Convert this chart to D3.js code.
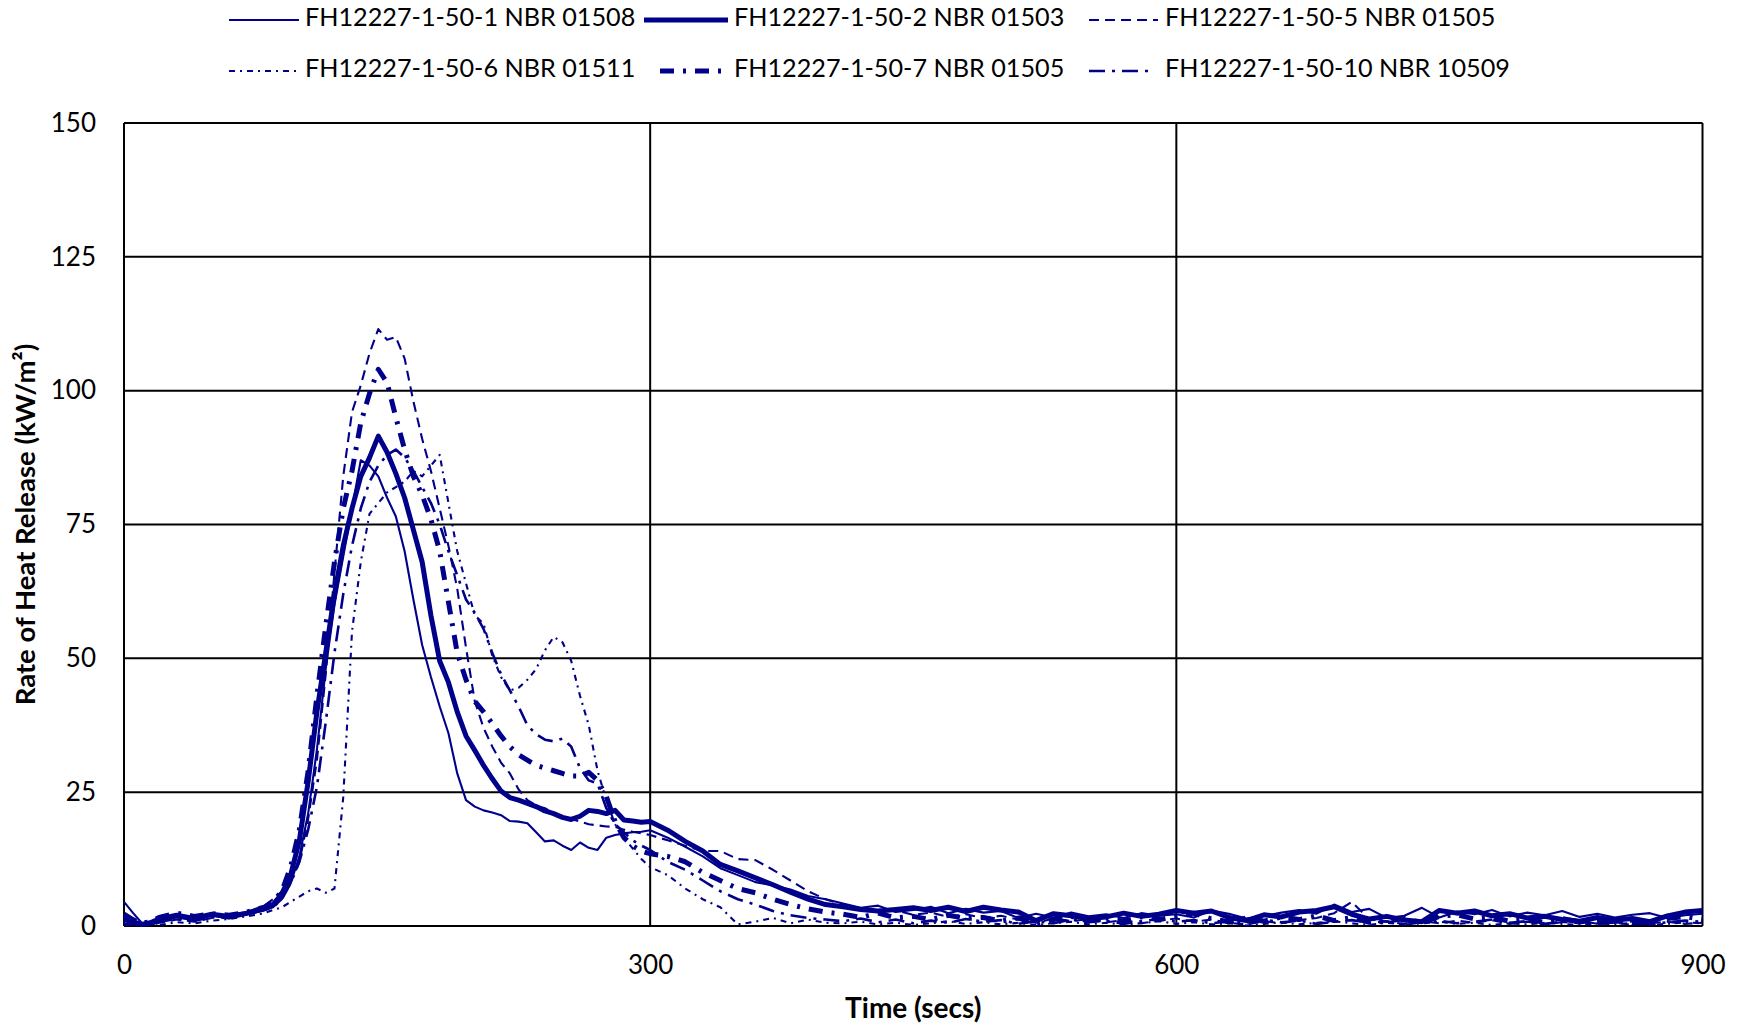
<!DOCTYPE html>
<html><head><meta charset="utf-8">
<script src="https://cdn.jsdelivr.net/npm/d3@7"></script>
<style>
html,body{margin:0;padding:0;background:#fff;}
svg text{font-family:Lato,"Open Sans",sans-serif;fill:#000;}
</style></head>
<body><svg id="chart" width="1737" height="1025"></svg>
<script>
// ---- data ----
const times = [0,5,10,15,20,30,40,50,60,70,80,
  85,90,95,100,105,110,115,120,125,130,135,140,145,150,155,160,165,170,175,180,185,190,195,200,205,210,215,220,225,230,235,240,245,250,255,260,265,270,275,280,285,290,295,300,
  310,320,330,340,350,360,370,380,390,400,
  410,420,430,440,450,460,470,480,490,500,510,520,530,540,550,560,570,580,590,600,610,620,630,640,650,660,670,680,690,700,710,720,730,740,750,760,770,780,790,800,810,820,830,840,850,860,870,880,890,900];

const seriesNames = ["FH12227-1-50-1 NBR 01508","FH12227-1-50-2 NBR 01503","FH12227-1-50-5 NBR 01505",
  "FH12227-1-50-6 NBR 01511","FH12227-1-50-7 NBR 01505","FH12227-1-50-10 NBR 10509"];

const s1 = [4.5,2.5,0.6,0.2,0.9,1.6,1.1,1.9,1.4,2.1,3.0,
  3.5,5,8,13,21,33,48,60,69,78,87,86,84,80,76.5,70,61,52.5,46.5,41,36,28.5,23.5,22.3,21.6,21.2,20.7,19.6,19.5,19.2,17.5,15.8,16,15,14.2,15.6,14.6,14.2,16.5,17,17.3,17.5,17.6,17.9,
  16.5,14.8,13.0,10.8,9.5,8.2,7.6,6.8,5.6,5.0,
  4.2,3.4,3.8,2.6,3.0,3.6,2.4,3.2,2.5,2.8,1.5,2.3,1.6,2.5,1.8,2.2,1.5,2.4,1.9,2.2,1.6,2.9,2.3,1.4,1.9,2.5,3.0,2.3,4.0,2.6,3.2,1.5,1.9,3.4,1.6,2.7,2.2,3.0,1.8,2.5,2.0,2.8,1.7,2.3,1.6,2.1,2.4,1.5,2.0,2.3];

const s2 = [1.8,0.8,0.3,0.6,1.3,2.0,1.4,2.2,1.8,2.4,3.2,
  4,6,9.5,16,27,40,51,62,71,78,84,87.5,91.5,88.5,84.5,80,74,68,58,49.5,45.5,40,35.5,32.8,30,27.5,25.2,24,23.5,22.9,22.3,21.5,21,20.3,19.9,20.5,21.6,21.4,21,21.6,19.8,19.6,19.4,19.5,
  17.9,15.8,14.0,11.5,10.3,9.0,7.7,6.3,5.0,4.0,
  3.6,3.1,2.8,3.1,3.4,2.9,3.5,2.7,3.5,3.0,2.6,1.0,2.3,1.9,1.4,1.7,2.4,1.8,2.2,2.9,2.4,2.8,1.6,1.0,2.1,1.7,2.6,2.9,3.6,2.2,1.3,1.8,1.1,0.8,2.9,2.4,2.8,1.9,2.3,1.5,1.8,1.2,0.9,1.6,1.1,1.4,0.8,1.9,2.6,2.9];

const s3 = [0.5,0.2,0.4,0.1,0.6,1.2,0.8,1.5,2.0,2.6,3.8,
  5,6.5,8,12,20,31,47,66,84,96,101,107,111.5,109.5,110,106,98,91,85,78,71,63,52,42,37,33.5,30.5,28.5,25.5,23.5,22.5,22,21,20.5,20,19.5,19,18.8,18.6,18.5,18,17.6,17.3,17,
  16.0,15.0,14.0,14.0,12.5,12.3,10.5,8.5,6.5,5.0,
  4.0,3.2,2.6,2.9,2.1,2.5,1.7,2.2,1.5,1.9,1.2,0.6,1.4,0.9,1.3,0.7,1.1,0.5,1.0,1.4,0.8,1.2,0.6,0.3,0.9,0.5,1.1,1.5,2.4,4.5,1.3,0.8,0.4,0.9,0.5,1.0,0.6,1.1,0.4,0.8,0.3,0.7,1.0,0.4,0.6,0.2,0.5,0.8,0.4,0.6];

const s4 = [0.3,0.1,0.2,0.4,0.2,0.7,0.5,1.0,1.3,1.8,2.4,
  3,3.5,4.5,5.5,6.5,7,6.2,7,24,55,68,77,79,81,82,83,85,84,86,88,79,70,64,58,56.5,50.5,46.5,44,44.5,46,48,51.5,54,53,49.5,43,37.5,29,23.5,19,16.5,14.5,12.5,11,
  9.5,7.0,5.0,3.5,0.3,0.8,1.5,0.5,1.2,0.6,
  0.5,0.8,0.3,0.6,0.2,0.5,0.9,0.4,0.7,0.3,0.6,0.2,0.5,0.8,0.3,0.6,0.2,0.5,0.9,0.4,0.7,0.3,0.5,0.1,0.4,0.7,0.3,0.6,0.9,0.5,0.2,0.6,0.3,0.5,0.8,0.4,0.6,0.2,0.5,0.3,0.6,0.4,0.2,0.5,0.3,0.6,0.2,0.4,0.7,0.5];

const s5 = [2.2,1.2,0.5,0.8,1.6,2.4,1.8,2.3,2.0,2.6,3.5,
  4.5,6.5,11,18,29,43,56,68,78,85,94,99.5,104,101.5,95,89,84,80.5,76,70,60.5,51,46,42,40,37.8,35.5,33.5,32,31,30,29.5,29,28.5,28,28,28.7,27.2,24.2,19.5,16.5,15,14,13.5,
  13.0,12.0,10.0,8.5,7.0,6.2,5.0,4.0,3.2,2.6,
  2.2,1.6,2.4,1.5,1.8,1.2,2.0,1.4,1.6,0.9,1.5,0.4,1.2,1.8,1.0,1.5,0.9,1.7,1.2,1.8,2.4,1.3,0.8,1.5,0.9,1.7,1.2,1.9,1.0,1.6,0.7,0.9,1.4,0.6,1.8,2.1,1.3,1.6,0.9,1.2,0.7,1.4,0.8,0.5,1.1,0.6,0.9,1.4,1.8,1.2];

const s6 = [1.0,0.5,0.2,0.3,0.8,1.3,1.0,1.6,1.5,2.2,3.0,
  3.5,5,8,12,18,26,38,51,62,71,78,83,86,88,89,87.5,85,82,79,75,70,65.5,61,58.5,55.5,51,47,44,41,37.5,35.8,34.8,34.5,35,33.5,29.5,27.2,26.6,22,19,17.5,16,15,14.2,
  12.0,10.5,8.5,6.5,5.0,4.0,2.8,2.0,1.5,1.2,
  0.9,1.4,0.7,1.2,0.5,1.0,0.6,1.3,0.8,1.1,0.4,0.9,0.5,1.2,0.7,1.0,0.4,0.9,1.3,0.8,1.1,0.5,0.9,0.6,1.2,0.7,1.0,0.4,0.8,1.1,0.6,0.9,0.3,0.7,1.0,0.5,0.8,1.2,0.6,0.9,0.4,0.8,0.5,1.0,0.6,0.9,0.3,0.7,1.0,0.8];

const xTicks = [0,300,600,900];
const yTicks = [0,25,50,75,100,125,150];
const xTitle = "Time (secs)";
const yTitle = "Rate of Heat Release (kW/m²)";

// ---- styles ----
const color = "#00008B";
const styles = [
  {w:2.1, dash:null},
  {w:5, dash:null},
  {w:2.1, dash:"10,6"},
  {w:2.1, dash:"6,5,2,5"},
  {w:5, dash:"14,9,3,9"},
  {w:2.6, dash:"16,7,3,7"}
];
const allSeries = [s1,s2,s3,s4,s5,s6];

const svg = d3.select("#chart");
const L=124, R=1702.5, T=123, B=926;
const x = d3.scaleLinear().domain([0,900]).range([L,R]);
const y = d3.scaleLinear().domain([0,150]).range([B,T]);

// gridlines
const g = svg.append("g");
g.selectAll(".hg").data(yTicks).enter().append("line")
  .attr("x1",L).attr("x2",R).attr("y1",d=>y(d)).attr("y2",d=>y(d))
  .attr("stroke","#000").attr("stroke-width",2);
g.selectAll(".vg").data(xTicks).enter().append("line")
  .attr("y1",T).attr("y2",B).attr("x1",d=>x(d)).attr("x2",d=>x(d))
  .attr("stroke","#000").attr("stroke-width",2);

// lines
const line = d3.line().x((d,i)=>x(times[i])).y(d=>y(d));
allSeries.forEach((s,k)=>{
  svg.append("path").datum(s).attr("d",line)
    .attr("fill","none").attr("stroke",color)
    .attr("stroke-width",styles[k].w)
    .attr("stroke-linejoin","round")
    .attr("stroke-dasharray",styles[k].dash);
});

// axes labels
const xAxis = d3.axisBottom(x).tickValues(xTicks).tickSize(0).tickPadding(30);
svg.append("g").attr("transform",`translate(0,${B})`).call(xAxis)
  .call(a=>a.select(".domain").remove())
  .selectAll("text").attr("font-size",26).attr("font-family","Lato").attr("fill","#000");
const yAxis = d3.axisLeft(y).tickValues(yTicks).tickSize(0).tickPadding(28);
svg.append("g").attr("transform",`translate(${L},0)`).call(yAxis)
  .call(a=>a.select(".domain").remove())
  .selectAll("text").attr("font-size",26).attr("font-family","Lato").attr("fill","#000");

svg.append("text").attr("x",(L+R)/2).attr("y",1011).attr("text-anchor","middle")
  .attr("dominant-baseline","middle").attr("font-weight","bold").attr("font-size",28).text(xTitle);
svg.append("text").attr("transform",`translate(28,${(T+B)/2}) rotate(-90)`).attr("text-anchor","middle")
  .attr("dominant-baseline","middle").attr("font-weight","bold").attr("font-size",27.5).text(yTitle);

// legend
const legendPos = [
  {lx1:229,lx2:299,tx:305,y:20},
  {lx1:644,lx2:728,tx:734,y:20},
  {lx1:1089,lx2:1158,tx:1165,y:20},
  {lx1:229,lx2:299,tx:305,y:71},
  {lx1:660,lx2:728,tx:734,y:71},
  {lx1:1089,lx2:1152,tx:1165,y:71}
];
seriesNames.forEach((n,k)=>{
  const p = legendPos[k];
  svg.append("line").attr("x1",p.lx1).attr("x2",p.lx2).attr("y1",p.y).attr("y2",p.y)
    .attr("stroke",color).attr("stroke-width",styles[k].w).attr("stroke-dasharray",styles[k].dash);
  svg.append("text").attr("x",p.tx).attr("y",p.y).attr("dominant-baseline","middle")
    .attr("font-size",25.2).text(n);
});
</script></body></html>
